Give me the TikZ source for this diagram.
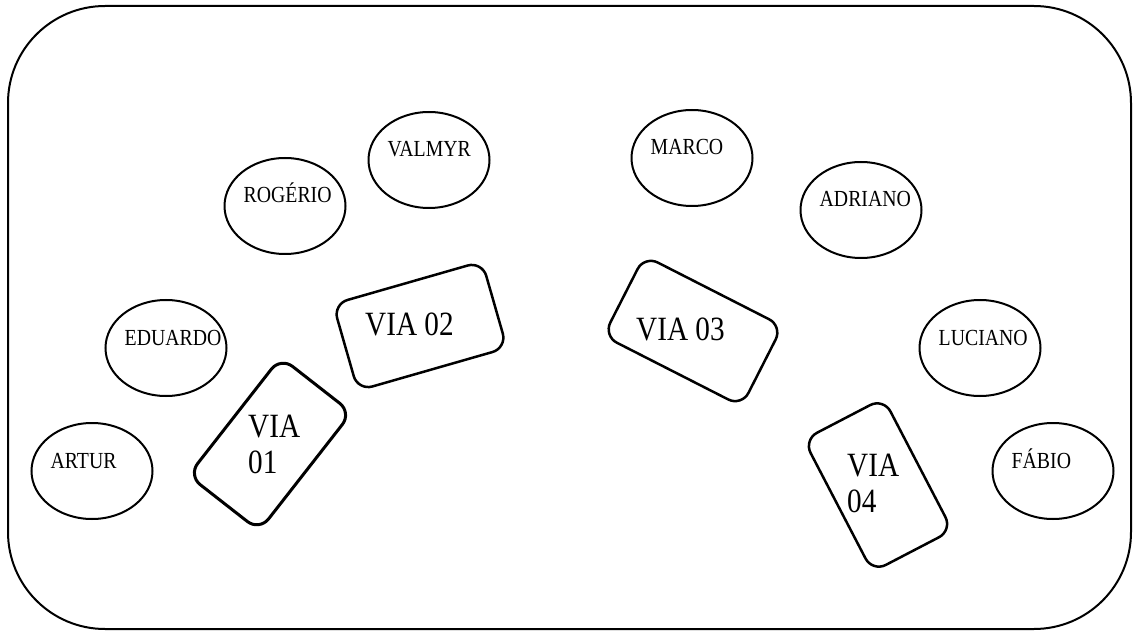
\documentclass[tikz,border=0pt]{standalone}
\usepackage{fontspec}
\setmainfont{Liberation Serif}[FakeStretch=0.86]
\usetikzlibrary{shapes.geometric}
\tikzset{
  person/.style={draw, ellipse, line width=2pt, minimum width=121pt, minimum height=96pt, inner sep=0pt},
  pname/.style={anchor=base west, inner sep=0pt, font=\fontsize{23}{27}\selectfont},
  viabox/.style={draw, rounded corners=15pt, line width=2.5pt, minimum width=155pt, minimum height=90pt, inner sep=0pt},
  vtext/.style={anchor=base west, inner sep=0pt, align=left, font=\fontsize{34}{36}\selectfont},
}
\begin{document}
\begin{tikzpicture}[x=1pt,y=-1pt]
\useasboundingbox (0,0) rectangle (1133,631);
\draw[line width=2pt, rounded corners=97pt] (8,6) rectangle (1131,629);
% people
\node[person] (eValmyr) at (429,160) {};
\node[person] (eRogerio) at (285,206) {};
\node[person] (eEduardo) at (166,348) {};
\node[person] (eArtur) at (92,471) {};
\node[person] (eMarco) at (692,158) {};
\node[person] (eAdriano) at (861,210) {};
\node[person] (eLuciano) at (980,348) {};
\node[person] (eFabio) at (1053,471) {};
\node[pname] (tValmyr) at ([xshift=20pt,yshift=3pt]eValmyr.west) {VALMYR};
\node[pname] (tRogerio) at ([xshift=20pt,yshift=3pt]eRogerio.west) {ROGÉRIO};
\node[pname] (tEduardo) at ([xshift=20pt,yshift=3pt]eEduardo.west) {EDUARDO};
\node[pname] (tArtur) at ([xshift=20pt,yshift=3pt]eArtur.west) {ARTUR};
\node[pname] (tMarco) at ([xshift=20pt,yshift=3pt]eMarco.west) {MARCO};
\node[pname] (tAdriano) at ([xshift=20pt,yshift=3pt]eAdriano.west) {ADRIANO};
\node[pname] (tLuciano) at ([xshift=20pt,yshift=3pt]eLuciano.west) {LUCIANO};
\node[pname] (tFabio) at ([xshift=20pt,yshift=3pt]eFabio.west) {FÁBIO};
% vias
\node[viabox, line width=3pt, minimum width=150pt, rotate=52] (v1) at (270,444) {};
\node[viabox, rotate=16] (v2) at (420,326) {};
\node[viabox, rotate=-27] (v3) at (693,331) {};
\node[viabox, minimum width=149pt, rotate=-62.5] (v4) at (878,485) {};
\node[vtext] (t1) at (248,437) {VIA};
\node[vtext] (t1b) at (248,473) {01};
\node[vtext] (t2) at (365,335) {VIA 02};
\node[vtext] (t3) at (636,340) {VIA 03};
\node[vtext] (t4) at (847,476) {VIA};
\node[vtext] (t4b) at (847,512) {04};
\end{tikzpicture}
\end{document}
